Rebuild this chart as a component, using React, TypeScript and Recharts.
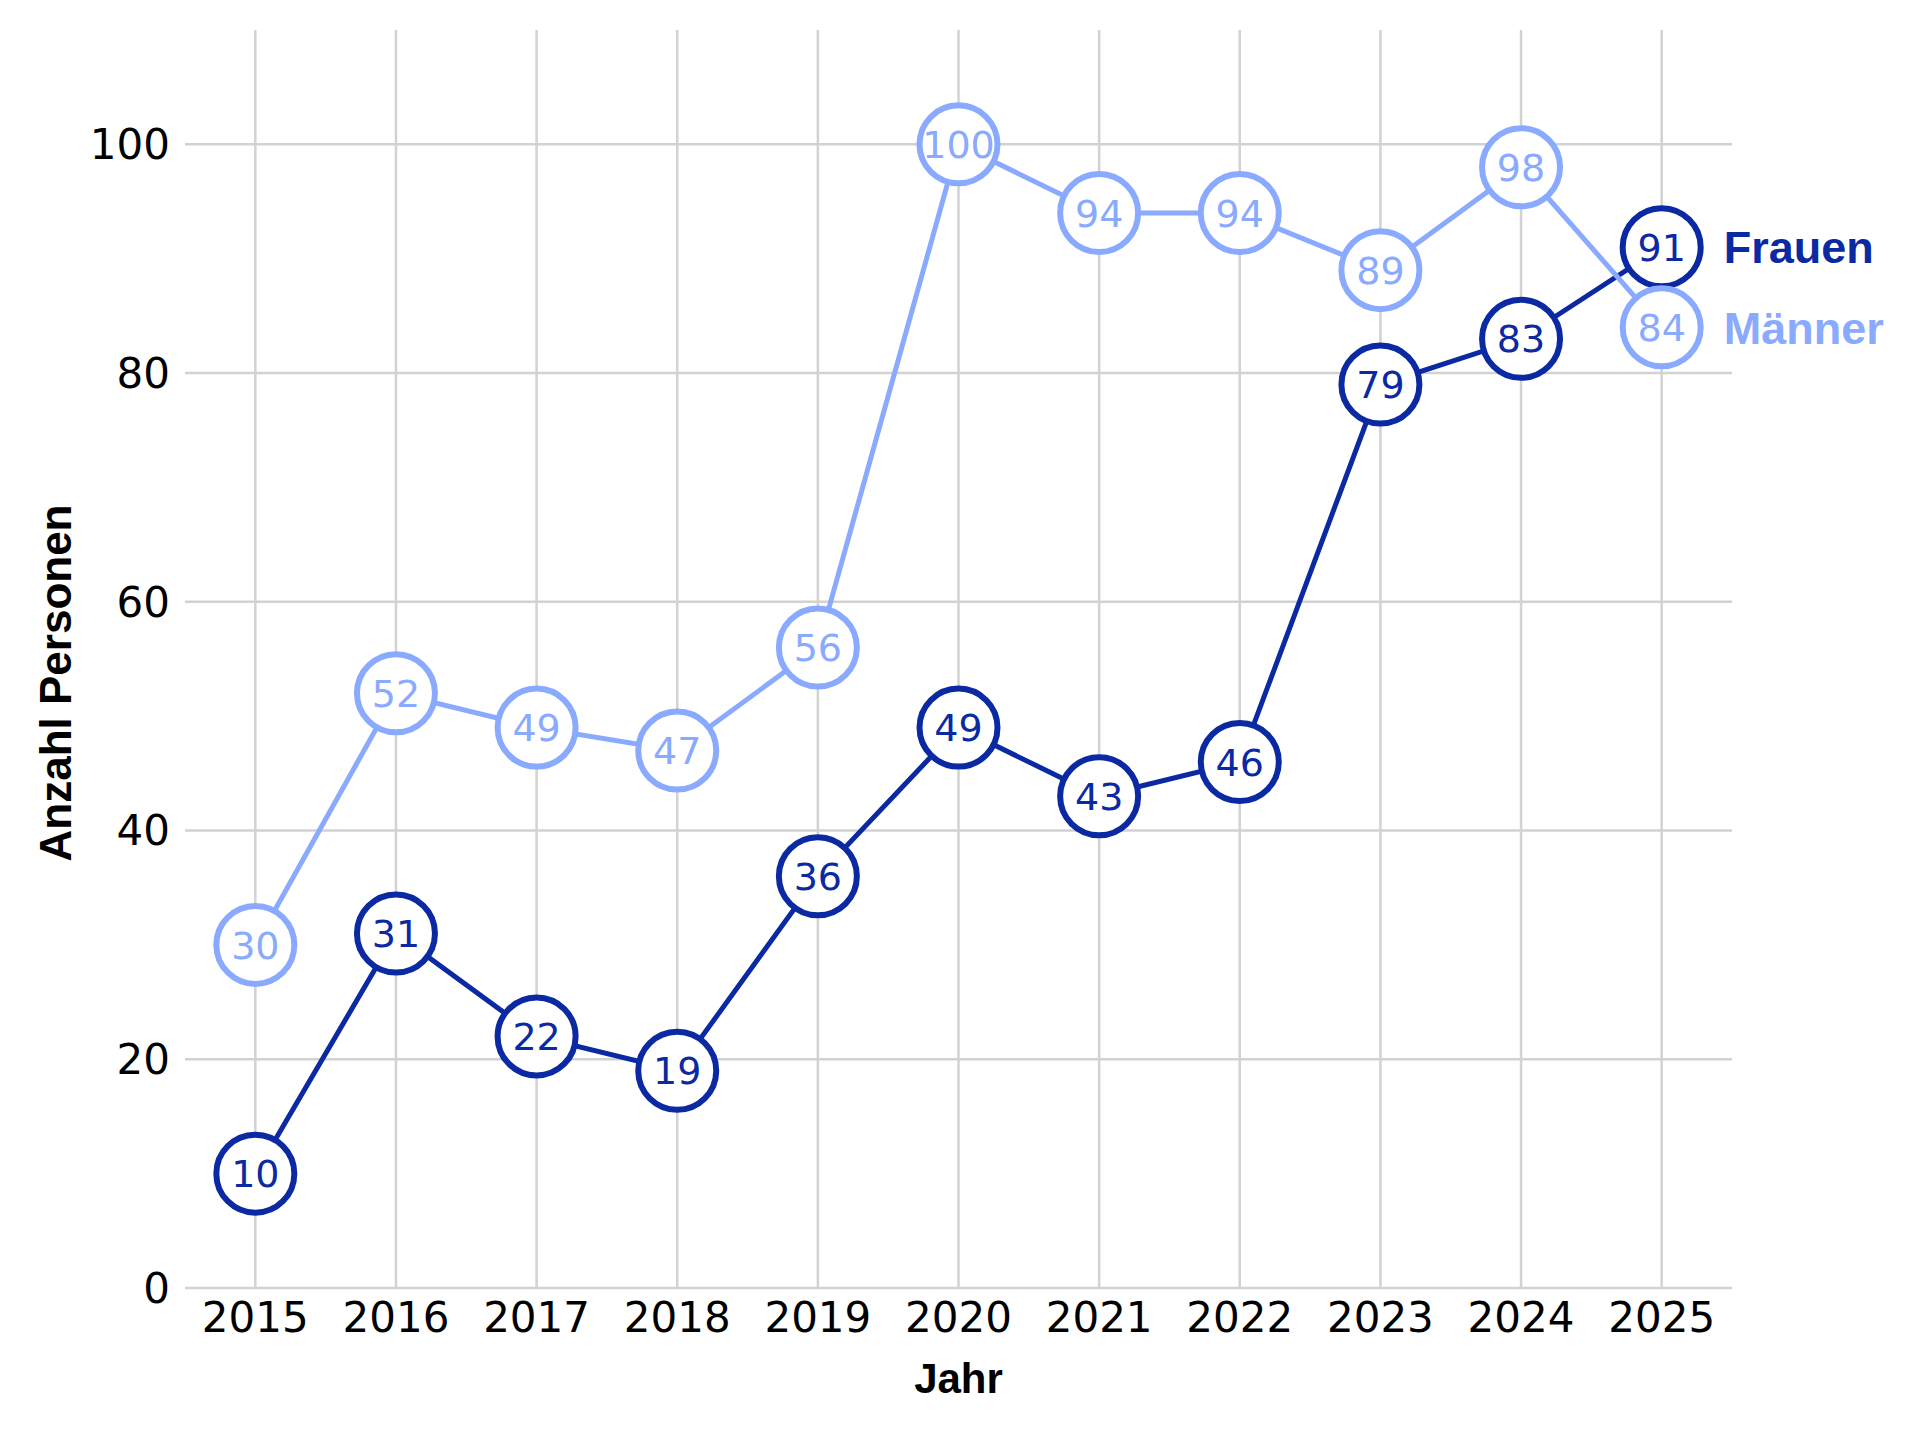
import { LineChart, Line, XAxis, YAxis, CartesianGrid } from "recharts";

const years = [2015, 2016, 2017, 2018, 2019, 2020, 2021, 2022, 2023, 2024, 2025];
const frauen = [10, 31, 22, 19, 36, 49, 43, 46, 79, 83, 91];
const maenner = [30, 52, 49, 47, 56, 100, 94, 94, 89, 98, 84];
const yTicks = [0, 20, 40, 60, 80, 100];

const X_DOMAIN = [2014.5, 2025.5];
const Y_DOMAIN = [0, 110];

const DARK = "#0a29a3";
const LIGHT = "#8aaaff";
const TICK_FONT = "DejaVu Sans";
const TITLE_FONT = "Liberation Sans";

const data = years.map((y, i) => ({ jahr: y, Frauen: frauen[i], Männer: maenner[i] }));

// grid only at the tick values, not at the domain edges
function axisPos(axis: any, v: number, lo: number, len: number, dom: number[], flip: boolean) {
  if (axis && typeof axis.scale === "function") return axis.scale(v);
  if (axis && axis.scale && typeof axis.scale.map === "function") return axis.scale.map(v);
  const f = (v - dom[0]) / (dom[1] - dom[0]);
  return flip ? lo + len * (1 - f) : lo + len * f;
}

function makeDot(color: string, name: string) {
  return (props: any) => {
    const { cx, cy, index, payload, dataKey } = props;
    if (cx == null || cy == null) return <g key={`d-${name}-${index}`} />;
    const isLast = index === data.length - 1;
    return (
      <g key={`d-${name}-${index}`}>
        <circle cx={cx} cy={cy} r={39} fill="#fff" stroke={color} strokeWidth={6} />
        <text
          x={cx}
          y={cy}
          dy="0.36em"
          textAnchor="middle"
          fill={color}
          fontSize={38}
          fontFamily={TICK_FONT}
        >
          {payload[dataKey]}
        </text>
        {isLast && (
          <text
            x={cx + 62}
            y={cy}
            dy="0.36em"
            fill={color}
            fontSize={45}
            fontWeight="bold"
            fontFamily={TITLE_FONT}
          >
            {name}
          </text>
        )}
      </g>
    );
  };
}

export default function App() {
  const tick = { fill: "#000", fontSize: 42, fontFamily: TICK_FONT };
  return (
    <div style={{ position: "absolute", left: 0, top: 0, background: "#fff" }}>
      <LineChart width={1920} height={1432} data={data} margin={{ top: 30, right: 188, bottom: 0, left: 0 }}>
        <CartesianGrid
          stroke="#d2d2d2"
          strokeWidth={2.5}
          horizontalCoordinatesGenerator={({ yAxis, offset }: any) =>
            yTicks.map((t) => axisPos(yAxis, t, offset.top, offset.height, Y_DOMAIN, true))
          }
          verticalCoordinatesGenerator={({ xAxis, offset }: any) =>
            years.map((t) => axisPos(xAxis, t, offset.left, offset.width, X_DOMAIN, false))
          }
        />
        <XAxis
          dataKey="jahr"
          type="number"
          domain={X_DOMAIN}
          ticks={years}
          height={144}
          axisLine={false}
          tickLine={false}
          tickMargin={8}
          tick={tick}
          label={{
            content: (p: any) => {
              const vb = p.viewBox;
              return (
                <text
                  x={vb.x + vb.width / 2}
                  y={1393}
                  textAnchor="middle"
                  fontSize={42}
                  fontWeight="bold"
                  fontFamily={TITLE_FONT}
                  fill="#000"
                >
                  Jahr
                </text>
              );
            },
          }}
        />
        <YAxis
          type="number"
          domain={Y_DOMAIN}
          ticks={yTicks}
          width={185}
          axisLine={false}
          tickLine={false}
          tickMargin={9}
          tick={tick}
          label={{
            content: (p: any) => {
              const vb = p.viewBox;
              const cx = vb.x + 55;
              const cy = vb.y + vb.height / 2 + 24;
              return (
                <text
                  x={cx}
                  y={cy}
                  dy="0.36em"
                  transform={`rotate(-90 ${cx} ${cy})`}
                  textAnchor="middle"
                  fontSize={44}
                  fontWeight="bold"
                  fontFamily={TITLE_FONT}
                  fill="#000"
                >
                  Anzahl Personen
                </text>
              );
            },
          }}
        />
        <Line
          dataKey="Frauen"
          stroke={DARK}
          strokeWidth={5}
          dot={makeDot(DARK, "Frauen")}
          activeDot={false}
          isAnimationActive={false}
        />
        <Line
          dataKey="Männer"
          stroke={LIGHT}
          strokeWidth={5}
          dot={makeDot(LIGHT, "Männer")}
          activeDot={false}
          isAnimationActive={false}
        />
      </LineChart>
    </div>
  );
}
